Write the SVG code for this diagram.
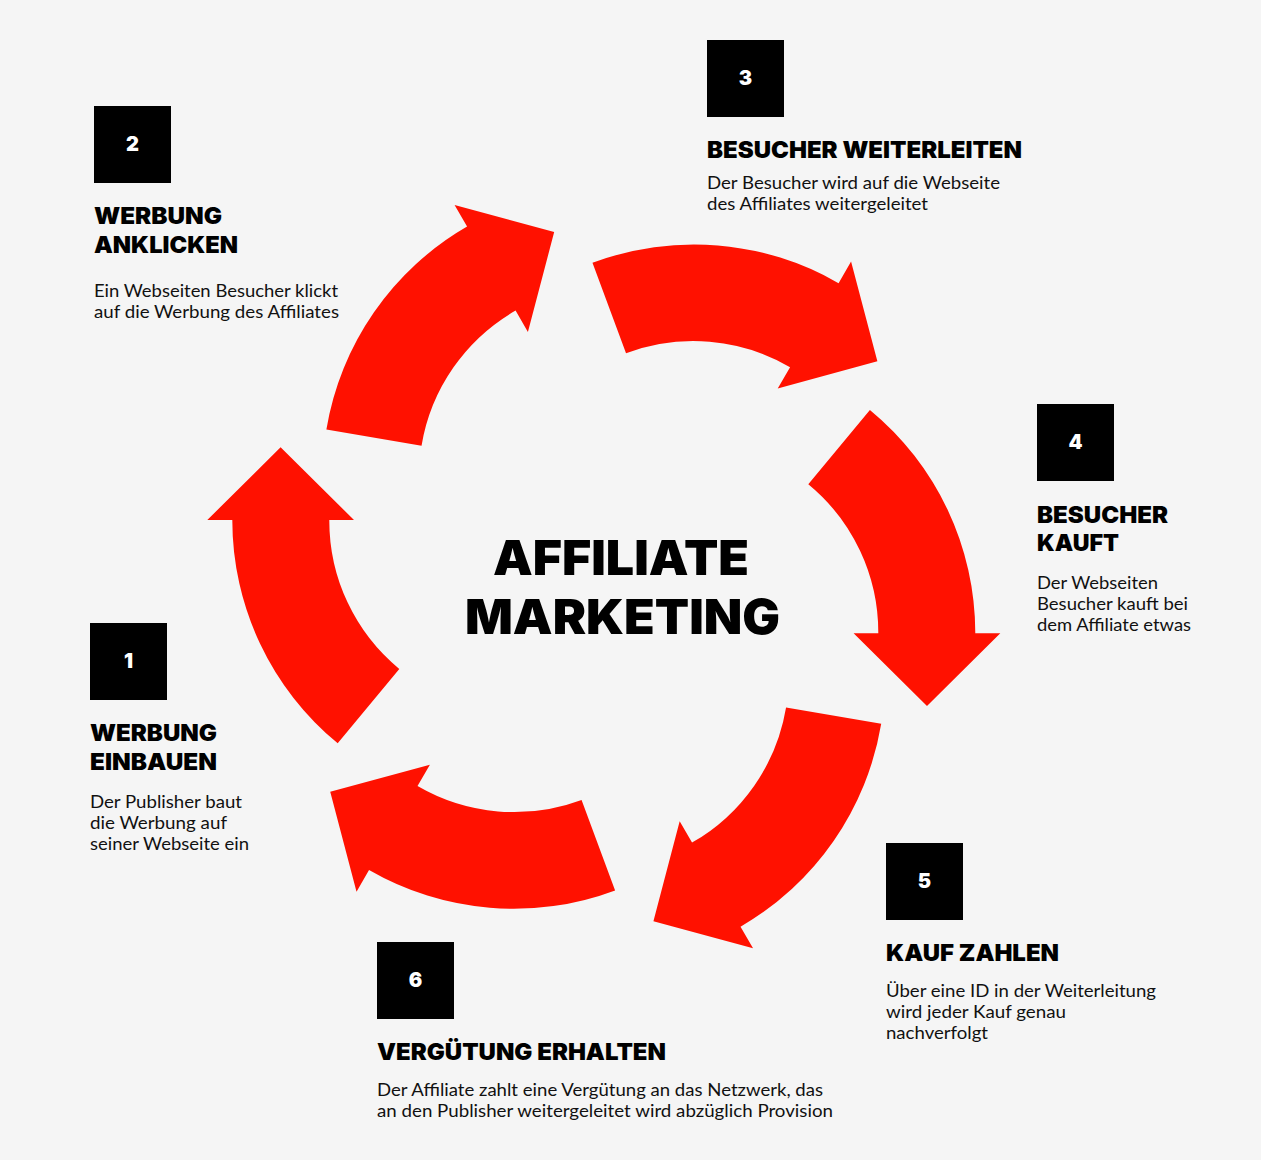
<svg xmlns="http://www.w3.org/2000/svg" xmlns:xlink="http://www.w3.org/1999/xlink" width="1261" height="1160" viewBox="0 0 1261 1160">
  <style>
    .bg { fill: #f5f5f5; }
    .arrow { fill: #ff1100; }
    .box { fill: #000000; }
    .num { font-family: Inter, Roboto, "Liberation Sans", sans-serif; font-weight: 900; font-size: 20px; fill: #ffffff; text-anchor: middle; }
    .head { font-family: Inter, Roboto, "Liberation Sans", sans-serif; font-weight: 900; font-size: 23px; fill: #000000; }
    .body { font-family: Lato, "Open Sans", "Liberation Sans", sans-serif; font-weight: 400; font-size: 17px; fill: #111111; }
    .title { font-family: Inter, Roboto, "Liberation Sans", sans-serif; font-weight: 900; font-size: 48px; fill: #000000; text-anchor: middle; }
  </style>
  <defs>
    <path id="arrowShape" d="M337.7,743.3 A289.2,289.2 0 0 1 232.3,520 L207.3,520 L280.6,447.3 L354,520 L329.3,520 A192.2,192.2 0 0 0 399.3,669 Z"/>
  </defs>
  <rect class="bg" x="0" y="0" width="1261" height="1160"/>

  <g id="connectors">
    <use xlink:href="#arrowShape" class="arrow"/>
    <use xlink:href="#arrowShape" class="arrow" transform="rotate(60 603.8 576.6)"/>
    <use xlink:href="#arrowShape" class="arrow" transform="rotate(120 603.8 576.6)"/>
    <use xlink:href="#arrowShape" class="arrow" transform="rotate(180 603.8 576.6)"/>
    <use xlink:href="#arrowShape" class="arrow" transform="rotate(240 603.8 576.6)"/>
    <use xlink:href="#arrowShape" class="arrow" transform="rotate(300 603.8 576.6)"/>
  </g>

  <g id="center-title">
    <text class="title" x="621" y="575" textLength="256" lengthAdjust="spacingAndGlyphs">AFFILIATE</text>
    <text class="title" x="622.5" y="634.3" textLength="315" lengthAdjust="spacingAndGlyphs">MARKETING</text>
  </g>

  <g id="step1">
    <rect class="box" x="90" y="623" width="77" height="77"/>
    <text class="num" x="128.5" y="668">1</text>
    <text class="head" x="90" y="741" textLength="127" lengthAdjust="spacingAndGlyphs">WERBUNG</text>
    <text class="head" x="90" y="770.3" textLength="127" lengthAdjust="spacingAndGlyphs">EINBAUEN</text>
    <text class="body" x="90" y="808.3" textLength="152" lengthAdjust="spacingAndGlyphs">Der Publisher baut</text>
    <text class="body" x="90" y="829.3" textLength="137" lengthAdjust="spacingAndGlyphs">die Werbung auf</text>
    <text class="body" x="90" y="850.3" textLength="159" lengthAdjust="spacingAndGlyphs">seiner Webseite ein</text>
  </g>

  <g id="step2">
    <rect class="box" x="94" y="106" width="77" height="77"/>
    <text class="num" x="132.5" y="151">2</text>
    <text class="head" x="94" y="224.3" textLength="128" lengthAdjust="spacingAndGlyphs">WERBUNG</text>
    <text class="head" x="94" y="252.7" textLength="144" lengthAdjust="spacingAndGlyphs">ANKLICKEN</text>
    <text class="body" x="94" y="296.7" textLength="244" lengthAdjust="spacingAndGlyphs">Ein Webseiten Besucher klickt</text>
    <text class="body" x="94" y="317.7" textLength="245" lengthAdjust="spacingAndGlyphs">auf die Werbung des Affiliates</text>
  </g>

  <g id="step3">
    <rect class="box" x="707" y="40" width="77" height="77"/>
    <text class="num" x="745.5" y="85">3</text>
    <text class="head" x="707" y="158" textLength="315" lengthAdjust="spacingAndGlyphs">BESUCHER WEITERLEITEN</text>
    <text class="body" x="707" y="189" textLength="293" lengthAdjust="spacingAndGlyphs">Der Besucher wird auf die Webseite</text>
    <text class="body" x="707" y="210" textLength="221" lengthAdjust="spacingAndGlyphs">des Affiliates weitergeleitet</text>
  </g>

  <g id="step4">
    <rect class="box" x="1037" y="404" width="77" height="77"/>
    <text class="num" x="1075.5" y="449">4</text>
    <text class="head" x="1037" y="522.7" textLength="131" lengthAdjust="spacingAndGlyphs">BESUCHER</text>
    <text class="head" x="1037" y="551" textLength="82" lengthAdjust="spacingAndGlyphs">KAUFT</text>
    <text class="body" x="1037" y="589.3" textLength="121" lengthAdjust="spacingAndGlyphs">Der Webseiten</text>
    <text class="body" x="1037" y="610.3" textLength="151" lengthAdjust="spacingAndGlyphs">Besucher kauft bei</text>
    <text class="body" x="1037" y="631.3" textLength="154" lengthAdjust="spacingAndGlyphs">dem Affiliate etwas</text>
  </g>

  <g id="step5">
    <rect class="box" x="886" y="843" width="77" height="77"/>
    <text class="num" x="924.5" y="888">5</text>
    <text class="head" x="886" y="961" textLength="173" lengthAdjust="spacingAndGlyphs">KAUF ZAHLEN</text>
    <text class="body" x="886" y="997.3" textLength="270" lengthAdjust="spacingAndGlyphs">Über eine ID in der Weiterleitung</text>
    <text class="body" x="886" y="1018.3" textLength="180" lengthAdjust="spacingAndGlyphs">wird jeder Kauf genau</text>
    <text class="body" x="886" y="1039.3" textLength="102" lengthAdjust="spacingAndGlyphs">nachverfolgt</text>
  </g>

  <g id="step6">
    <rect class="box" x="377" y="942" width="77" height="77"/>
    <text class="num" x="415.5" y="987">6</text>
    <text class="head" x="377" y="1059.7" textLength="289" lengthAdjust="spacingAndGlyphs">VERGÜTUNG ERHALTEN</text>
    <text class="body" x="377" y="1095.7" textLength="446" lengthAdjust="spacingAndGlyphs">Der Affiliate zahlt eine Vergütung an das Netzwerk, das</text>
    <text class="body" x="377" y="1116.7" textLength="456" lengthAdjust="spacingAndGlyphs">an den Publisher weitergeleitet wird abzüglich Provision</text>
  </g>
</svg>
